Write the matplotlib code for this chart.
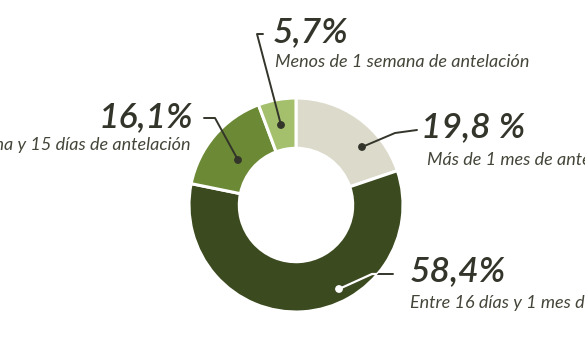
import matplotlib.pyplot as plt
from matplotlib.patches import Circle

# Data
categories = ['Más de 1 mes de antelación', 'Entre 16 días y 1 mes de antelación',
              'Entre 1 semana y 15 días de antelación', 'Menos de 1 semana de antelación']
values = [19.8, 58.4, 16.1, 5.7]
pct_labels = ['19,8 %', '58,4%', '16,1%', '5,7%']
colors = ['#dcdacb', '#3b4a1f', '#6c8a35', '#a5c06c']

W, H = 585, 343
CX, CY, R = 296, 205, 107   # donut centre and radius in pixels


def px(x, y):
    # pixel position -> data units (radius of the pie = 1)
    return ((x - CX) / R, (CY - y) / R)


fig = plt.figure(figsize=(W / 100, H / 100), dpi=100)
ax = fig.add_axes([0, 0, 1, 1])
ax.axis('off')

wedges, _ = ax.pie(values, colors=colors, startangle=90, counterclock=False,
                   radius=1, wedgeprops=dict(width=0.47, edgecolor='white', linewidth=2.2))
ax.set_aspect('equal')
ax.set_xlim(-CX / R, (W - CX) / R)
ax.set_ylim(-(H - CY) / R, CY / R)

txt = '#33342a'
font = 'Lato'

# leader lines (pixel paths) and label positions
leaders = [
    [(362, 147), (395, 133), (417, 130)],
    [(339, 289), (372, 274), (393, 274)],
    [(238, 160), (215, 118), (204, 118)],
    [(281, 125), (257, 34), (263, 34)],
]
label_pos = [(421, 127, 'left'), (410, 271, 'left'), (193, 117, 'right'), (273, 32, 'left')]
sub_pos = [(427, 160, 'left'), (410, 303, 'left'), (191, 145, 'right'), (275, 62, 'left')]

for i in range(len(values)):
    pts = [px(*p) for p in leaders[i]]
    xs = [p[0] for p in pts]
    ys = [p[1] for p in pts]
    ax.plot(xs, ys, color=txt, lw=1.4, solid_capstyle='round', zorder=3)
    ax.add_patch(Circle(pts[0], 3.2 / R, color=txt, zorder=4))
    if i == 1:
        # white part of the leader inside the dark slice
        ln, = ax.plot(xs, ys, color='white', lw=1.6, solid_capstyle='round', zorder=4)
        ln.set_clip_path(wedges[1])
        ax.add_patch(Circle(pts[0], 3.2 / R, color='white', zorder=5))

    x, y, ha = label_pos[i]
    ax.text(*px(x, y), pct_labels[i], ha=ha, va='center', fontsize=25.5,
            style='italic', weight='semibold', family=font, color=txt)
    x, y, ha = sub_pos[i]
    ax.text(*px(x, y), categories[i], ha=ha, va='center', fontsize=13,
            style='italic', family=font, color='#45453a')

fig.savefig('out.png', dpi=100)
